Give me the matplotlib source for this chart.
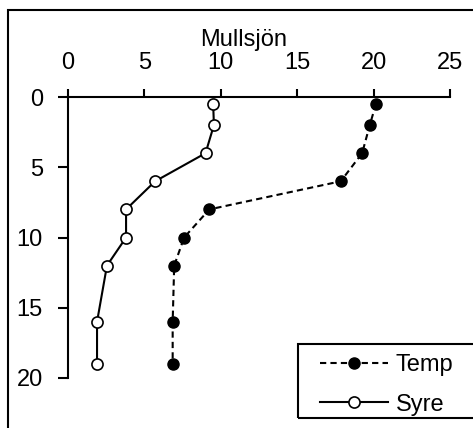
import matplotlib
matplotlib.use("Agg")
from matplotlib import pyplot as plt
from matplotlib.patches import Rectangle

plt.rcParams['font.family'] = ['Liberation Sans', 'DejaVu Sans']

# depth (m) and the two profiles
depth = [0.5, 2, 4, 6, 8, 10, 12, 16, 19]
temp = [20.15, 19.75, 19.25, 17.85, 9.25, 7.6, 6.95, 6.85, 6.85]
syre = [9.5, 9.55, 9.0, 5.7, 3.8, 3.8, 2.55, 1.9, 1.9]

title = "Mullsjön"
x_ticks = [0, 5, 10, 15, 20, 25]
y_ticks = [0, 5, 10, 15, 20]

W, H = 473, 428
FS = 17
fig = plt.figure(figsize=(W / 100, H / 100), dpi=100)
ax = fig.add_axes([68 / W, 1 - 378 / H, (450 - 68) / W, (378 - 97) / H])

ax.plot(temp, depth, color='black', lw=1.5, ls=(0, (3, 2)),
        marker='o', ms=8, mfc='black', mec='black', label='Temp', clip_on=False)
ax.plot(syre, depth, color='black', lw=1.5, ls='-',
        marker='o', ms=8, mfc='white', mec='black', mew=1.2, label='Syre', clip_on=False)

ax.set_xlim(0, 25)
ax.set_ylim(20, 0)
ax.set_xticks(x_ticks)
ax.set_yticks(y_ticks)
ax.xaxis.tick_top()
ax.tick_params(axis='x', direction='out', length=6, width=1.5, pad=10.5, labelsize=FS)
ax.tick_params(axis='y', direction='out', length=7, width=1.5, pad=11, labelsize=FS)
for s in ['bottom', 'right']:
    ax.spines[s].set_visible(False)
for s in ['top', 'left']:
    ax.spines[s].set_linewidth(1.5)

fig.text(244 / W, 1 - 46 / H, title, ha='center', va='baseline', fontsize=FS)

# outer frame
fig.patches.append(Rectangle((8 / W, -0.1), 1.2, 1 - 10 / H + 0.1, transform=fig.transFigure,
                             fill=False, lw=1.5, ec='black', clip_on=False))
# legend box
fig.patches.append(Rectangle((298 / W, 1 - 418 / H), 0.5, (418 - 344) / H, transform=fig.transFigure,
                             fill=False, lw=1.5, ec='black', clip_on=False))
leg = ax.legend(loc='upper left', bbox_to_anchor=(320 / W, 1 - 354 / H), bbox_transform=fig.transFigure,
                frameon=False, fontsize=FS, handlelength=2.9, handletextpad=0.3,
                labelspacing=0.75, borderpad=0, borderaxespad=0, numpoints=1)

fig.savefig('out.png', dpi=100)
